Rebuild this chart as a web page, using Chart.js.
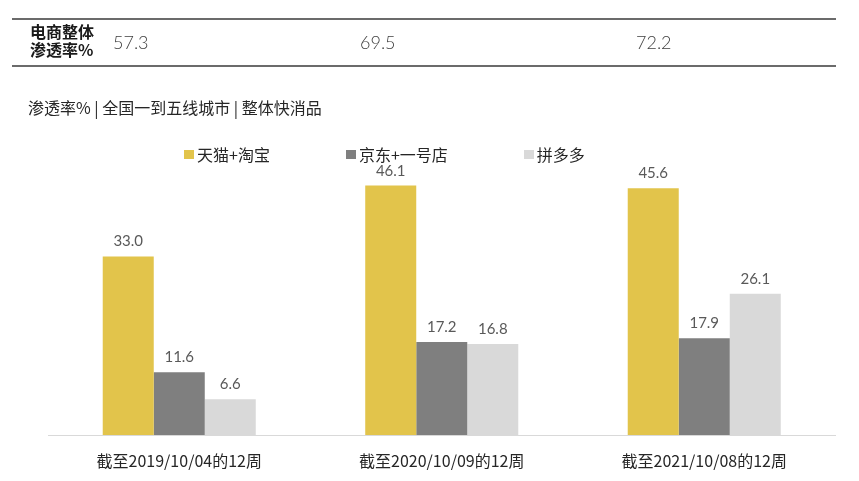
<!DOCTYPE html>
<html>
<head>
<meta charset="utf-8">
<script src="https://cdn.jsdelivr.net/npm/chart.js@4.4.1/dist/chart.umd.min.js"></script>
<style>
  body { margin: 0; background: #fff; }
  #wrap { position: relative; width: 859px; height: 481px; overflow: hidden; font-family: "Noto Sans CJK SC", sans-serif; }
  #wrap canvas { position: absolute; left: 0; top: 0; }
  .rule { position: absolute; left: 12px; width: 824px; height: 2px; background: #6b6b6b; }
  .head { position: absolute; left: 30px; top: 22px; font-size: 16px; font-weight: 700; line-height: 18px; color: #1a1a1a; }
  .total { position: absolute; top: 31px; font-family: "Lato", sans-serif; font-weight: 300; font-size: 18px; color: #404040; }
  #subtitle { position: absolute; left: 28px; top: 95px; font-size: 16px; color: #262626; }
  #legend { position: absolute; left: 184px; top: 142px; display: flex; font-size: 16px; color: #262626; }
  #legend .item { display: flex; align-items: center; margin-right: 76px; }
  #legend .box { width: 10px; height: 9px; margin-right: 3px; }
</style>
</head>
<body>
<div id="wrap">
  <canvas id="shareChart" width="859" height="497"></canvas>
  <div class="rule" style="top:18px"></div>
  <div class="rule" style="top:65px"></div>
  <div class="head">电商整体<br>渗透率%</div>
  <div id="totals"></div>
  <div id="subtitle">渗透率% | 全国一到五线城市 | 整体快消品</div>
  <div id="legend"></div>
</div>
<script>
// 各期间
const periods = ['截至2019/10/04的12周', '截至2020/10/09的12周', '截至2021/10/08的12周'];
// 电商整体渗透率%
const totalPenetration = ['57.3', '69.5', '72.2'];
const totalX = [113, 360, 636];
// 各平台渗透率%
const tmallTaobao = [33.0, 46.1, 45.6];
const jdYhd = [11.6, 17.2, 17.9];
const pinduoduo = [6.6, 16.8, 26.1];

// 顶部表格数值
const totals = document.getElementById('totals');
totalPenetration.forEach(function(v, i) {
  const d = document.createElement('div');
  d.className = 'total';
  d.style.left = totalX[i] + 'px';
  d.textContent = v;
  totals.appendChild(d);
});

// 柱顶数值
const valueLabels = {
  id: 'valueLabels',
  afterDatasetsDraw(chart) {
    const ctx = chart.ctx;
    ctx.save();
    ctx.font = '15px Lato, sans-serif';
    ctx.fillStyle = '#595959';
    ctx.textAlign = 'center';
    ctx.textBaseline = 'alphabetic';
    chart.data.datasets.forEach(function(ds, i) {
      chart.getDatasetMeta(i).data.forEach(function(bar, j) {
        ctx.fillText(ds.data[j].toFixed(1), bar.x, bar.y - 10);
      });
    });
    ctx.restore();
  }
};

const ctx = document.getElementById('shareChart').getContext('2d');
const shareChart = new Chart(ctx, {
  type: 'bar',
  data: {
    labels: periods,
    datasets: [
      { label: '天猫+淘宝', data: tmallTaobao, backgroundColor: '#E2C44B' },
      { label: '京东+一号店', data: jdYhd, backgroundColor: '#7F7F7F' },
      { label: '拼多多', data: pinduoduo, backgroundColor: '#D9D9D9' }
    ]
  },
  options: {
    responsive: false,
    animation: false,
    barPercentage: 1,
    categoryPercentage: 0.583,
    layout: { padding: { top: 164.5, left: 48, right: 23.5, bottom: 10.8 } },
    scales: {
      y: { display: false, min: 0, max: 50 },
      x: {
        grid: { display: false, drawTicks: false },
        border: { display: true, color: '#d9d9d9', width: 1 },
        ticks: {
          padding: 16,
          color: '#262626',
          font: { family: '"Noto Sans CJK SC", sans-serif', size: 16 }
        }
      }
    },
    plugins: {
      legend: { display: false },
      tooltip: { enabled: false }
    }
  },
  plugins: [valueLabels]
});

// 图例
const legend = document.getElementById('legend');
shareChart.data.datasets.forEach(function(ds) {
  const item = document.createElement('div');
  item.className = 'item';
  const box = document.createElement('span');
  box.className = 'box';
  box.style.background = ds.backgroundColor;
  const txt = document.createElement('span');
  txt.textContent = ds.label;
  item.appendChild(box);
  item.appendChild(txt);
  legend.appendChild(item);
});
</script>
</body>
</html>
